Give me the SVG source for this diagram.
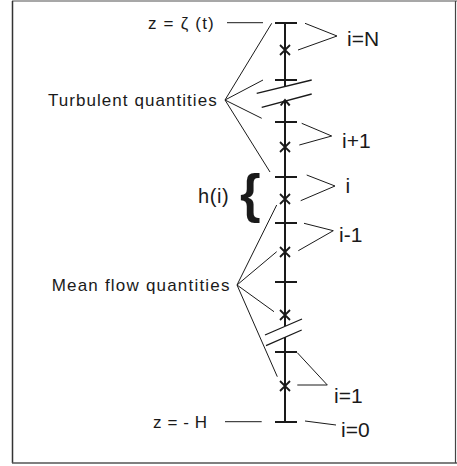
<svg xmlns="http://www.w3.org/2000/svg" width="457" height="466" viewBox="0 0 457 466">
<style>
.t{font-family:"Liberation Sans",Arial,sans-serif;fill:#1a1a1a}
.lbl{font-size:17px}
.idx{font-size:21px}
.thin{stroke:#1a1a1a;stroke-width:1;fill:none}
.axis{stroke:#1a1a1a;stroke-width:2;fill:none}
.brk{stroke:#1a1a1a;stroke-width:1.3;fill:none}
.x{stroke:#1a1a1a;stroke-width:1.8;fill:none}
</style>
<rect x="0" y="0" width="457" height="466" fill="#ffffff"/>
<g id="frame">
<line x1="12" y1="1" x2="457" y2="1" stroke="#8a8a8a" stroke-width="1.5"/>
<line x1="12.5" y1="1" x2="12.5" y2="463" stroke="#333" stroke-width="1.5"/>
<line x1="12" y1="463" x2="457" y2="463" stroke="#555" stroke-width="1.5"/>
<line x1="455.5" y1="1" x2="455.5" y2="463" stroke="#444" stroke-width="1.2"/>
</g>
<g id="axis">
<path class="axis" d="M285,23V86.5M285,101V326M285,337V422"/>
<path class="axis" d="M275,23H297M275,80H297M275,122H297M275,177H297M275,223H297M275,282H297M275,352H297M275,422H297"/>
<polyline class="axis" points="280.7,105.5 285,100 289.7,105.5"/>
<path class="x" d="M280,45L290,55M290,45L280,55M280,142L290,152M290,142L280,152M280,194L290,204M290,194L280,204M280,247L290,257M290,247L280,257M280,310L290,320M290,310L280,320M280,381L290,391M290,381L280,391"/>
<path class="brk" d="M256.7,93.3L311.7,80M261.7,107.3L311.7,94M265,335L302,319M266,345.7L301.7,330"/>
</g>
<g id="connectors">
<path class="thin" d="M227,22.7H263"/>
<path class="thin" d="M271.7,23.3L225,100L263,80M225,100L261.7,118.3M225,100L270,172"/>
<polyline class="thin" points="305,23.3 337,36 298,50"/>
<polyline class="thin" points="301.7,123.3 331.7,136 299.3,145"/>
<polyline class="thin" points="306.7,175 335,186 300.7,200.7"/>
<polyline class="thin" points="304,223.3 333.3,230.7 298.3,250.7"/>
<path class="thin" d="M276.7,205L237,285L276.7,251.7M237,285L274,311.7M237,285L277.3,376.7"/>
<polyline class="thin" points="297.3,352.7 327.3,385 297.3,385"/>
<path class="thin" d="M305,421L336,425"/>
<path class="thin" d="M225,421.7H261.7"/>
</g>
<g id="label-top"><text class="t lbl" x="148" y="29" style="letter-spacing:1.2px">z = ζ (t)</text></g>
<g id="label-turbulent"><text class="t lbl" x="48" y="106" style="letter-spacing:1.05px">Turbulent quantities</text></g>
<g id="label-h"><text class="t" x="198" y="203" font-size="20" style="letter-spacing:0.6px">h(i)</text><text class="t" x="240" y="212" font-size="53" font-weight="bold">{</text></g>
<g id="label-mean"><text class="t lbl" x="51.7" y="291" style="letter-spacing:1.2px">Mean flow quantities</text></g>
<g id="label-bottom"><text class="t lbl" x="153" y="427.7" style="letter-spacing:0.6px">z = - H</text></g>
<g id="label-iN"><text class="t idx" x="347" y="46">i=N</text></g>
<g id="label-ip1"><text class="t idx" x="342" y="148">i+1</text></g>
<g id="label-i"><text class="t idx" x="345.5" y="193">i</text></g>
<g id="label-im1"><text class="t idx" x="339" y="241.5">i-1</text></g>
<g id="label-i1"><text class="t idx" x="334" y="403">i=1</text></g>
<g id="label-i0"><text class="t idx" x="341" y="437">i=0</text></g>
</svg>
